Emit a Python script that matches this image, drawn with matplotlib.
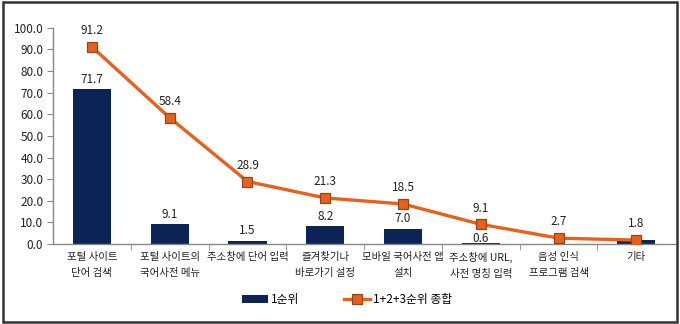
import numpy as np
import matplotlib.pyplot as plt
from matplotlib.patches import Rectangle

plt.rcParams['font.family'] = ['Noto Sans CJK KR', 'DejaVu Sans']

categories = ['포털 사이트\n단어 검색', '포털 사이트의\n국어사전 메뉴', '주소창에 단어 입력',
              '즐겨찾기나\n바로가기 설정', '모바일 국어사전 앱\n설치', '주소창에 URL,\n사전 명칭 입력',
              '음성 인식\n프로그램 검색', '기타']
first_rank = [71.7, 9.1, 1.5, 8.2, 7.0, 0.6, 0.0, 1.8]
total_rank = [91.2, 58.4, 28.9, 21.3, 18.5, 9.1, 2.7, 1.8]
yticks = np.arange(0, 101, 10)

navy = '#0b2355'
orange = '#e8601c'
txt = '#222222'

fig = plt.figure(figsize=(6.8, 3.24), dpi=100)
ax = fig.add_axes([0.078, 0.247, 0.915, 0.667])

x = np.arange(len(categories))
bars = ax.bar(x, first_rank, width=0.49, color=navy, label='1순위', zorder=2)
line, = ax.plot(x, total_rank, color=orange, lw=2.4, marker='s', markersize=7,
                markerfacecolor=orange, markeredgecolor='#8a4a1c', markeredgewidth=0.9,
                label='1+2+3순위 종합', zorder=3)

# bar labels (skip empty bar and ones hidden behind the line label)
# the 0.6 label sits lower so it clears the line marker
for xi, v, t in zip(x, first_rank, total_rank):
    if v > 0 and v != t:
        dy = -2 if v < 1 else 2.5
        ax.annotate(f'{v:.1f}', (xi, v), xytext=(0, dy), textcoords='offset points',
                    ha='center', va='bottom', fontsize=8.5, color=txt, zorder=4)
for xi, v in zip(x, total_rank):
    ax.annotate(f'{v:.1f}', (xi, v), xytext=(0, 7), textcoords='offset points',
                ha='center', va='bottom', fontsize=8.5, color=txt)

ax.set_xlim(-0.5, len(categories) - 0.5)
ax.set_ylim(0, 100)
ax.set_yticks(yticks)
ax.set_yticklabels([f'{v:.1f}' for v in yticks], fontsize=8.5, color=txt)
ax.set_xticks(x)
ax.set_xticklabels(categories, fontsize=7.5, color=txt, linespacing=1.7)
ax.set_xticks(np.arange(0.5, len(categories) - 0.5), minor=True)
ax.tick_params(axis='x', which='major', length=0, pad=6)
ax.tick_params(axis='x', which='minor', length=4, color='#888888', direction='out')
ax.tick_params(axis='y', length=4, color='#888888', direction='out', pad=3)

for s in ['top', 'right']:
    ax.spines[s].set_visible(False)
for s in ['left', 'bottom']:
    ax.spines[s].set_color('#888888')
    ax.spines[s].set_linewidth(1)

fig.legend([bars, line], ['1순위', '1+2+3순위 종합'], loc='center',
           bbox_to_anchor=(0.51, 0.075), ncol=2, frameon=False,
           fontsize=8.5, handlelength=2.2, columnspacing=3.8, handletextpad=0.25)

# outer frame
fig.patches.append(Rectangle((0.004, 0.006), 0.992, 0.988, transform=fig.transFigure,
                             fill=False, edgecolor='#333333', linewidth=1.8))

fig.savefig('out.png', dpi=100)
